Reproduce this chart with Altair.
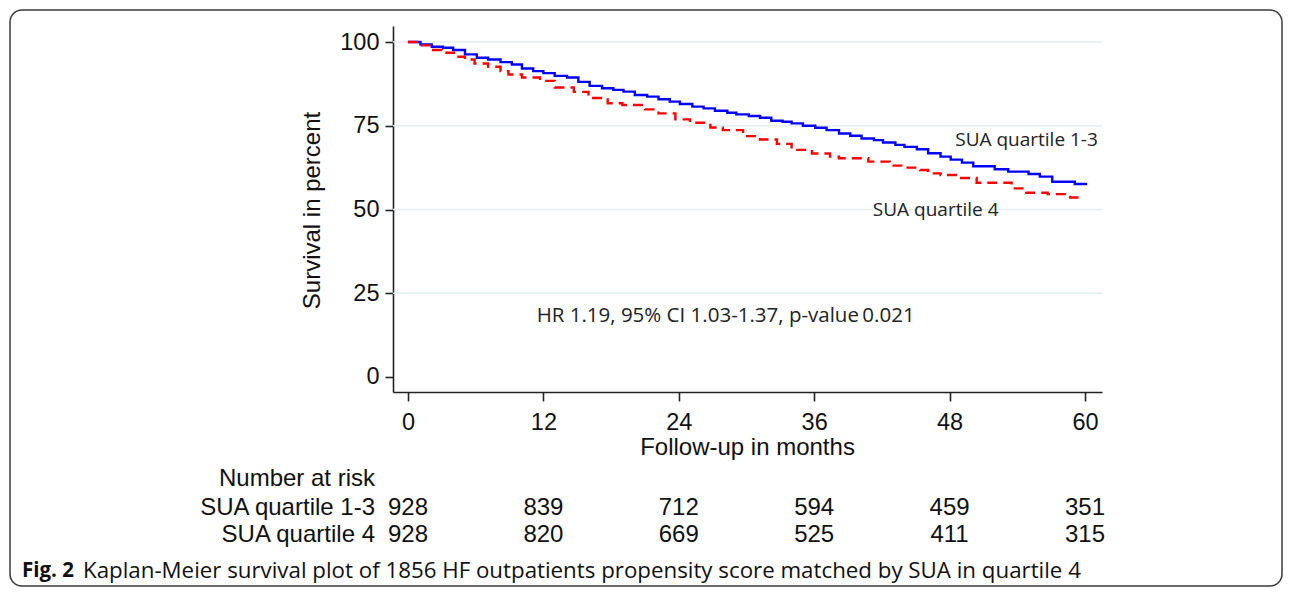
import altair as alt
import pandas as pd

# ---- data ----
blue_t = [0, 1.1, 2.1, 3.1, 4.0, 5.05, 6.1, 7.1, 8.2, 9.2, 10.1, 11.1, 12.0, 13.0, 14.1,
          15.1, 16.1, 17.2, 18.2, 19.1, 20.1, 21.2, 22.2, 23.2, 24.1, 25.2, 26.2, 27.2, 28.3,
          29.1, 30.2, 31.2, 32.2, 33.2, 34.0, 35.0, 36.1, 37.1, 38.2, 39.2, 40.2, 41.3, 42.1,
          43.2, 44.0, 45.1, 46.1, 47.2, 48.1, 49.1, 50.1, 52.0, 53.2, 55.0, 56.0, 57.1, 59.1, 60.2]
blue_s = [100, 99.3, 98.6, 98.3, 97.6, 96.3, 95.3, 94.8, 94.0, 93.3, 92.1, 91.3, 90.7, 89.9, 89.4,
          88.1, 86.9, 86.2, 85.7, 85.2, 84.2, 83.7, 82.9, 82.2, 81.5, 80.7, 80.2, 79.5, 78.9,
          78.4, 77.9, 77.4, 76.5, 76.2, 75.7, 75.0, 74.4, 73.7, 72.7, 72.0, 71.2, 70.7, 70.0,
          69.3, 68.7, 68.0, 66.8, 65.8, 64.9, 64.0, 62.9, 62.0, 61.3, 60.6, 59.8, 58.3, 57.6, 57.6]

red_t = [0, 1.1, 2.1, 3.0, 4.2, 5.05, 5.9, 7.1, 8.2, 8.9, 10.1, 11.7, 13.0, 14.7, 16.0,
         17.7, 19.0, 21.0, 22.2, 23.7, 25.0, 26.8, 27.9, 29.7, 31.2, 32.7, 34.0, 35.8, 37.4,
         38.2, 40.8, 42.7, 43.9, 45.4, 46.1, 47.2, 48.9, 50.4, 53.5, 54.8, 56.7, 58.7, 59.6]
red_s = [100, 99.0, 97.6, 96.8, 95.6, 94.8, 93.6, 92.6, 91.3, 90.3, 89.4, 88.4, 86.4, 85.1, 83.3,
         81.7, 81.2, 79.9, 78.7, 76.9, 75.9, 74.5, 73.7, 71.9, 70.9, 69.6, 67.8, 66.7, 65.8,
         65.3, 64.3, 63.1, 62.5, 61.8, 60.8, 60.3, 59.4, 58.0, 56.3, 55.0, 54.6, 53.6, 53.6]

groups = ["SUA quartile 1-3", "SUA quartile 4"]
x_ticks = [0, 12, 24, 36, 48, 60]
y_ticks = [0, 25, 50, 75, 100]
grid_vals = [25, 50, 75, 100]

risk_t = [0, 12, 24, 36, 48, 60]
risk_q13 = [928, 839, 712, 594, 459, 351]
risk_q4 = [928, 820, 669, 525, 411, 315]

hr_text = "HR 1.19, 95% CI 1.03-1.37, p-value\u20090.021"
risk_title = "Number at risk"
caption_bold = "Fig. 2"
caption_rest = "Kaplan-Meier survival plot of 1856 HF outpatients propensity score matched by SUA in quartile 4"

# ---- tables ----
curves = pd.concat([
    pd.DataFrame({"t": blue_t, "s": blue_s, "g": groups[0]}),
    pd.DataFrame({"t": red_t, "s": red_s, "g": groups[1]}),
])
risk = pd.DataFrame({"t": risk_t, "q13": risk_q13, "q4": risk_q4})

W, H = 709, 366
FONT = "Liberation Sans"
ANN = "Open Sans"
xs = alt.Scale(domain=[-1.33, 61.51], nice=False, zero=False)
ys = alt.Scale(domain=[-4.48, 104.78], nice=False, zero=False)

x_axis = alt.Axis(values=x_ticks, title="Follow-up in months", grid=False,
                  tickSize=9, labelPadding=9, labelFont=FONT, labelFontSize=23.5,
                  labelColor="#111", titleFont=FONT, titleFontSize=24, titleFontWeight="normal",
                  titleColor="#111", titleX=354, titleY=55, titleAlign="center",
                  titleBaseline="middle", domainColor="#222", tickColor="#222",
                  domainWidth=1.6, tickWidth=1.6)
y_axis = alt.Axis(values=y_ticks, title="Survival in percent", grid=False,
                  tickSize=8, labelPadding=6, labelFont=FONT, labelFontSize=23.5,
                  labelColor="#111", titleFont=FONT, titleFontSize=24, titleFontWeight="normal",
                  titleColor="#111", titleAngle=270, titleX=-81, titleY=184,
                  titleAlign="center", titleBaseline="middle", domainColor="#222",
                  tickColor="#222", domainWidth=1.6, tickWidth=1.6)

grid = alt.Chart(pd.DataFrame({"v": grid_vals})).mark_rule(
    color="#e2eef1", strokeWidth=1.6
).encode(y=alt.Y("v:Q", scale=ys, axis=y_axis))

lines = alt.Chart(curves).mark_line(interpolate="step-after", strokeWidth=2.4).encode(
    x=alt.X("t:Q", scale=xs, axis=x_axis),
    y=alt.Y("s:Q", scale=ys, axis=y_axis),
    color=alt.Color("g:N", scale=alt.Scale(domain=groups, range=["#0000ff", "#ff0000"]), legend=None),
    strokeDash=alt.StrokeDash("g:N", scale=alt.Scale(domain=groups, range=[[1, 0], [10, 6]]), legend=None),
    detail="g:N",
)

def ann(label, tx, sy, size=19):
    return alt.Chart(pd.DataFrame({"label": [label]})).mark_text(
        align="left", baseline="middle", font=ANN, fontSize=size, color="#222"
    ).encode(x=alt.X(datum=tx, scale=xs, axis=x_axis), y=alt.Y(datum=sy, scale=ys, axis=y_axis),
             text="label:N")

ann1 = ann(groups[0], 48.5, 70.7)
ann2 = ann(groups[1], 41.2, 49.9)
ann3 = ann(hr_text, 11.4, 18.2, size=20.5)

def risk_row(field, ypix):
    return alt.Chart(risk).mark_text(
        font=FONT, fontSize=24, color="#111", baseline="middle", align="center"
    ).encode(x=alt.X("t:Q", scale=xs, axis=x_axis), y=alt.value(ypix), text=f"{field}:Q")

def fixed_text(label, xpix, ypix, align, font=FONT, size=24, weight="normal"):
    return alt.Chart(pd.DataFrame({"label": [label]})).mark_text(
        font=font, fontSize=size, fontWeight=weight, color="#111",
        baseline="middle", align=align
    ).encode(x=alt.value(xpix), y=alt.value(ypix), text="label:N")

risk_row1 = risk_row("q13", 482)
risk_row2 = risk_row("q4", 509)
lab0 = fixed_text(risk_title, -18, 453, "right")
lab1 = fixed_text(groups[0], -18, 482, "right")
lab2 = fixed_text(groups[1], -18, 509, "right")

cap1 = fixed_text(caption_bold, -371, 545, "left", font=ANN, size=20.5, weight="bold")
cap2 = fixed_text(caption_rest, -310, 545, "left", font=ANN, size=22.3)

border = alt.Chart(pd.DataFrame({"k": [0]})).mark_rect(
    fillOpacity=0, stroke="#3a3a3a", strokeWidth=1.5, cornerRadius=12
).encode(x=alt.value(-383), x2=alt.value(889), y=alt.value(-16), y2=alt.value(560))

chart = alt.layer(
    grid, lines, ann1, ann2, ann3, risk_row1, risk_row2, lab0, lab1, lab2, cap1, cap2, border
).properties(
    width=W, height=H,
    autosize=alt.AutoSizeParams(type="none"),
    padding={"left": 385, "top": 18, "right": 182, "bottom": 195},
    background="white",
).configure_view(stroke=None)

chart.save("out.html", embed_options={"renderer": "svg", "actions": False})
